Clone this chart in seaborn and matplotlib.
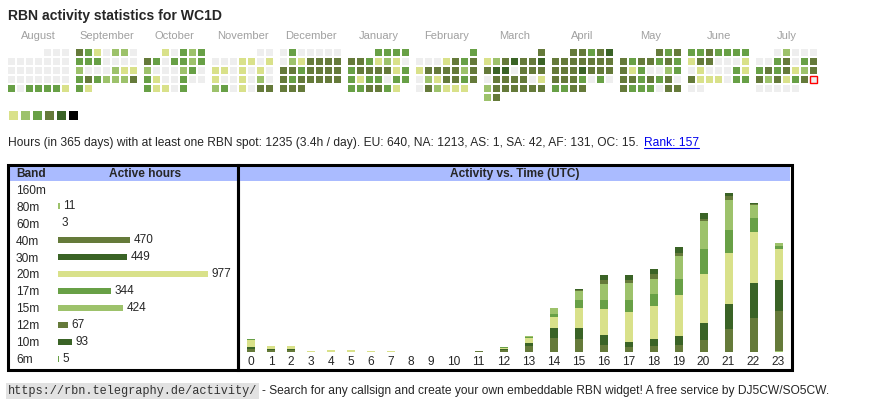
import numpy as np
import pandas as pd
import matplotlib
matplotlib.use('Agg')
import matplotlib.pyplot as plt
from matplotlib.colors import ListedColormap
from matplotlib.patches import Rectangle
from matplotlib.lines import Line2D
import seaborn as sns

# ---------------- data ----------------
callsign = 'WC1D'
first_month = '2025-08-01'
month_names = ['August', 'September', 'October', 'November', 'December', 'January',
               'February', 'March', 'April', 'May', 'June', 'July']
# activity level per day (0 = none ... 5 = most), one string per month
month_levels = [
    '000' '0000000' '0000000' '0000000' '3033331',
    '4310220' '3330000' '2000211' '3432224' '31',
    '10323' '4303323' '2000230' '3100300' '31103',
    '00' '0001101' '1101010' '1001020' '2301044',
    '0300000' '0214444' '4434444' '4344444' '444',
    '3333' '4431210' '3444413' '3133033' '334431',
    '3' '0001434' '1444424' '0214434' '042111',
    '4' '1245445' '4550444' '0444401' '2444444' '24',
    '44345' '4444444' '4445444' '4443030' '3344',
    '434' '4344343' '4130023' '4434340' '4333044',
    '3343333' '1440001' '0100031' '4111033' '00',
    '02000' '0034034' '3434124' '4241340' '00000',
]
today_month = 11
today_day = 26

level_colors = ['#eeeeee', '#d9e18a', '#9dc26b', '#68a046', '#657a3a', '#3a6326', '#000000']

summary_text = ('Hours (in 365 days) with at least one RBN spot: 1235 (3.4h / day). '
                'EU: 640, NA: 1213, AS: 1, SA: 42, AF: 131, OC: 15.')
rank_text = 'Rank: 157'

bands = ['160m', '80m', '60m', '40m', '30m', '20m', '17m', '15m', '12m', '10m', '6m']
band_hours = [None, 11, 3, 470, 449, 977, 344, 424, 67, 93, 5]
band_colors = ['#eeeeee', '#9dc26b', '#d9e18a', '#657a3a', '#3a6326', '#d9e18a',
               '#68a046', '#9dc26b', '#657a3a', '#3a6326', '#68a046']

utc_hours = list(range(24))
hours_80m = [0, 0, 0, 0, 0, 0, 0, 0, 0, 0, 0, 0, 0, 0, 0, 0, 0, 0, 0, 0, 0, 0, 0, 3]
hours_40m = [8, 5, 5, 0, 0, 0, 0, 0, 0, 0, 0, 3, 5, 16, 37, 34, 19, 13, 16, 19, 32, 61, 90, 106]
hours_30m = [5, 2, 2, 0, 0, 0, 0, 0, 0, 0, 0, 0, 3, 8, 27, 29, 27, 13, 19, 24, 45, 66, 93, 82]
hours_20m = [19, 8, 8, 3, 5, 5, 3, 3, 0, 0, 0, 0, 3, 13, 29, 53, 69, 80, 87, 109, 130, 136, 135, 82]
hours_17m = [3, 0, 0, 0, 0, 0, 0, 0, 0, 0, 0, 0, 3, 3, 8, 21, 24, 32, 32, 42, 66, 61, 37, 8]
hours_15m = [0, 0, 0, 0, 0, 0, 0, 0, 0, 0, 0, 0, 0, 3, 16, 24, 40, 45, 40, 61, 74, 80, 34, 8]
hours_12m = [0, 0, 0, 0, 0, 0, 0, 0, 0, 0, 0, 0, 0, 0, 0, 3, 13, 8, 13, 8, 5, 9, 3, 0]
hours_10m = [0, 0, 0, 0, 0, 0, 0, 0, 0, 0, 0, 0, 0, 0, 0, 3, 12, 14, 14, 14, 17, 8, 3, 0]
stack = [(hours_80m, '#9dc26b'), (hours_40m, '#657a3a'), (hours_30m, '#3a6326'),
         (hours_20m, '#d9e18a'), (hours_17m, '#68a046'), (hours_15m, '#9dc26b'),
         (hours_12m, '#657a3a'), (hours_10m, '#3a6326')]

# ---------------- layout ----------------
W, H = 870, 407
sns.set_theme(style='white')
plt.rcParams['font.family'] = ['Liberation Sans', 'DejaVu Sans']

fig = plt.figure(figsize=(W / 100, H / 100), dpi=100)
fig.patch.set_facecolor('white')


def px_axes(x0, y0, x1, y1):
    return fig.add_axes([x0 / W, 1 - y1 / H, (x1 - x0) / W, (y1 - y0) / H])


def fx(x):
    return x / W


def fy(y):
    return 1 - y / H


cmap = ListedColormap(level_colors)
body_size = 8.65

fig.text(fx(8), fy(20), f'RBN activity statistics for {callsign}', fontsize=10.1,
         fontweight='bold', va='baseline', ha='left')

# calendar blocks, one heatmap per month
starts = pd.date_range(first_month, periods=12, freq='MS')
for i, (start, name, levels) in enumerate(zip(starts, month_names, month_levels)):
    grid = np.full((6, 7), np.nan)
    wd = start.weekday()
    for d, ch in enumerate(levels):
        grid[(wd + d) // 7, (wd + d) % 7] = int(ch)
    x0 = 7 + 68 * i
    ax = px_axes(x0, 48, x0 + 63, 102)
    sns.heatmap(grid, ax=ax, cmap=cmap, vmin=-0.5, vmax=6.5, cbar=False,
                linewidths=1.44, linecolor='white', xticklabels=False, yticklabels=False)
    ax.set_facecolor('white')
    fig.text(fx(x0 + 31.5), fy(39), name, color='#a0a0a0', fontsize=8,
             ha='center', va='baseline')
    if i == today_month:
        p = wd + today_day - 1
        ax.add_patch(Rectangle((p % 7 + 1 / 9, p // 7 + 1 / 9), 7 / 9, 7 / 9,
                               fill=False, edgecolor='red', lw=1.0, clip_on=False))

# legend squares
ax = px_axes(6.7, 109.2, 78.7, 121.2)
sns.heatmap(np.arange(1, 7).reshape(1, 6), ax=ax, cmap=cmap, vmin=-0.5, vmax=6.5,
            cbar=False, linewidths=1.8, linecolor='white',
            xticklabels=False, yticklabels=False)

# summary line + rank link
t = fig.text(fx(8), fy(146), summary_text, fontsize=body_size, va='baseline', ha='left')
fig.canvas.draw()
r = fig.canvas.get_renderer()
bb = t.get_window_extent(r)
rk = fig.text((bb.x1 + 5) / W, fy(146), rank_text, fontsize=body_size, color='#0000ee',
              va='baseline', ha='left')
bb2 = rk.get_window_extent(r)
fig.add_artist(Line2D([bb2.x0 / W, bb2.x1 / W], [fy(147.5), fy(147.5)],
                      transform=fig.transFigure, color='#0000ee', lw=0.8))

# table frames and headers
for x0, x1, hx0, hx1 in [(8.5, 238.5, 10, 237), (238.5, 791.5, 240, 790)]:
    fig.add_artist(Rectangle((fx(hx0), fy(181)), (hx1 - hx0) / W, 15 / H,
                             transform=fig.transFigure, facecolor='#aabbff',
                             edgecolor='none'))
    fig.add_artist(Rectangle((fx(x0), fy(369.5)), (x1 - x0) / W, 205 / H,
                             transform=fig.transFigure, fill=False,
                             edgecolor='black', lw=2.2))
fig.text(fx(16), fy(177), 'Band', fontsize=8.6, fontweight='bold', va='baseline')
fig.text(fx(145), fy(177), 'Active hours', fontsize=8.6, fontweight='bold',
         va='baseline', ha='center')
fig.text(fx(515), fy(177), 'Activity vs. Time (UTC)', fontsize=8.6,
         fontweight='bold', va='baseline', ha='center')

# band table bars
px_per_hour = 150 / 977
axb = px_axes(58, 180, 237, 368)
df_band = pd.DataFrame({'band': bands,
                        'hours': [0 if v is None else v for v in band_hours]})
sns.barplot(data=df_band, y='band', x='hours', orient='y', ax=axb, color='#aaaaaa',
            width=0.41, saturation=1, errorbar=None, linewidth=0)
for patch, c in zip(axb.patches, band_colors):
    patch.set_facecolor(c)
axb.bar_label(axb.containers[0], labels=['' if v is None else str(v) for v in band_hours],
              padding=2.5, fontsize=8.5)
axb.set_xlim(0, 179 / px_per_hour)
axb.set_ylim(10.53, -0.53)
axb.set_xlabel('')
axb.set_ylabel('')
axb.set_xticks([])
axb.tick_params(axis='y', length=0, pad=30.2, labelsize=8.6)
for lbl in axb.get_yticklabels():
    lbl.set_ha('left')
    lbl.set_va('center_baseline')
axb.set_facecolor('none')
sns.despine(ax=axb, left=True, bottom=True)

# activity vs time stacked bars
col_w = np.array([15 + 5 * len(str(h)) for h in utc_hours], dtype=float)
centers = np.cumsum(col_w) - col_w / 2
hour_per_px = 2.65
axt = px_axes(241, 180, 791, 352)
cum = np.zeros(24)
layers = []
for vals, c in stack:
    cum = cum + np.array(vals, dtype=float)
    layers.append((cum.copy(), c))
for cv, c in reversed(layers):
    sns.barplot(x=centers, y=cv, native_scale=True, orient='x', ax=axt, color=c,
                width=0.4, saturation=1, errorbar=None, linewidth=0)
axt.set_xlim(0, col_w.sum())
axt.set_ylim(0, 172 * hour_per_px)
axt.set_xticks(centers)
axt.set_xticklabels([str(h) for h in utc_hours], fontsize=8.6)
axt.set_yticks([])
axt.tick_params(axis='x', length=0, pad=3)
axt.set_xlabel('')
axt.set_ylabel('')
axt.set_facecolor('none')
sns.despine(ax=axt, left=True, bottom=True)

# footer
u = fig.text(fx(8), fy(394), 'https://rbn.telegraphy.de/activity/', fontsize=8.6,
             family=['Liberation Mono', 'DejaVu Sans Mono'], color='#333333',
             va='baseline', ha='left',
             bbox=dict(facecolor='#e2e2e2', edgecolor='none', pad=1.5))
fig.canvas.draw()
bb3 = u.get_window_extent(fig.canvas.get_renderer())
fig.text((bb3.x1 + 5) / W, fy(394),
         '- Search for any callsign and create your own embeddable RBN widget! '
         'A free service by DJ5CW/SO5CW.', fontsize=body_size, va='baseline', ha='left')

fig.savefig('out.png', dpi=100)
